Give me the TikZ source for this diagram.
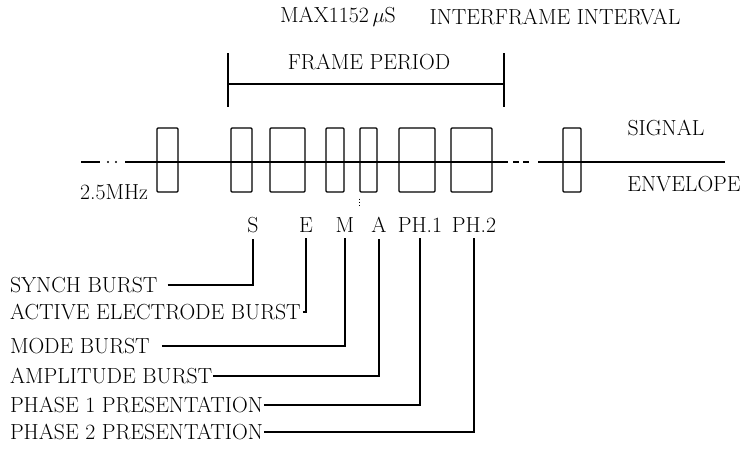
\documentclass[tikz,border=0pt]{standalone}
\begin{document}
\begin{tikzpicture}[x=1pt,y=-1pt,
  lbl/.style={font=\fontsize{21.8}{26}\selectfont, inner sep=0pt, outer sep=0pt},
  burst/.style={draw, line width=1.3pt, inner sep=0pt, minimum height=64pt, rounded corners=1pt},
  ln/.style={line width=1.3pt},
  lead/.style={line width=1.2pt}]
\useasboundingbox (0,0) rectangle (742,448);

% top texts
\node[lbl] (max) at (338,17) {MAX1152\,$\mu$S};
\node[lbl] (ifi) at (555,17) {INTERFRAME INTERVAL};
\node[lbl] (fp) at (369,62) {FRAME PERIOD};

% frame period bracket
\coordinate (fl) at (228,84);
\coordinate (fr) at (504,84);
\draw[ln] (228,53) -- (228,107);
\draw[ln] (504,53) -- (504,107);
\draw[ln] (fl) -- (fr);

% bursts
\node[burst, minimum width=21pt] (b0) at (167.5,160) {};
\node[burst, minimum width=21pt] (bS) at (241.5,160) {};
\node[burst, minimum width=35pt] (bE) at (287.5,160) {};
\node[burst, minimum width=18pt] (bM) at (335,160) {};
\node[burst, minimum width=17pt] (bA) at (368.5,160) {};
\node[burst, minimum width=36pt] (bP1) at (417,160) {};
\node[burst, minimum width=41pt] (bP2) at (471.5,160) {};
\node[burst, minimum width=18pt] (bR) at (572,160) {};

% main signal line
\draw[ln] (81,162) -- (100,162);
\fill (108,162) circle (1.1pt);
\fill (116,162) circle (1.1pt);
\draw[ln] (125,162) -- (508,162);
\draw[ln] (513,162) -- (519,162);
\draw[ln] (523,162) -- (529,162);
\draw[ln] (538,162) -- (725,162);

% dotted mark under A
\draw[line width=1pt, dotted] ([yshift=-6pt]bA.south west) -- ([yshift=-14pt]bA.south west);

% side labels
\node[lbl, anchor=east] (mhz) at (148,192) {2.5MHz};
\node[lbl] (sig) at (666,128) {SIGNAL};
\node[lbl] (env) at (684,184) {ENVELOPE};

% burst letters
\node[lbl] (lS) at (253,225) {S};
\node[lbl] (lE) at (306,225) {E};
\node[lbl] (lM) at (345,225) {M};
\node[lbl] (lA) at (379,225) {A};
\node[lbl] (lP1) at (420,225) {PH.1};
\node[lbl] (lP2) at (474,225) {PH.2};

% legend texts
\node[lbl, anchor=west] (tS) at (10,285) {SYNCH BURST};
\node[lbl, anchor=west] (tE) at (10,312) {ACTIVE ELECTRODE BURST};
\node[lbl, anchor=west] (tM) at (10,346) {MODE BURST};
\node[lbl, anchor=west] (tA) at (10,376) {AMPLITUDE BURST};
\node[lbl, anchor=west] (tP1) at (10,405) {PHASE 1 PRESENTATION};
\node[lbl, anchor=west] (tP2) at (10,432) {PHASE 2 PRESENTATION};

% leaders
\draw[lead] ([xshift=10pt]tS.east) -| ([yshift=-6pt]lS.south);
\draw[lead] ([xshift=2pt]tE.east) -| ([yshift=-6pt]lE.south);
\draw[lead] ([xshift=12pt]tM.east) -| ([yshift=-6pt]lM.south);
\draw[lead] ([xshift=1pt]tA.east) -| ([yshift=-6pt]lA.south);
\draw[lead] ([xshift=1pt]tP1.east) -| ([yshift=-6pt]lP1.south);
\draw[lead] ([xshift=1pt]tP2.east) -| ([yshift=-6pt]lP2.south);
\end{tikzpicture}
\end{document}
